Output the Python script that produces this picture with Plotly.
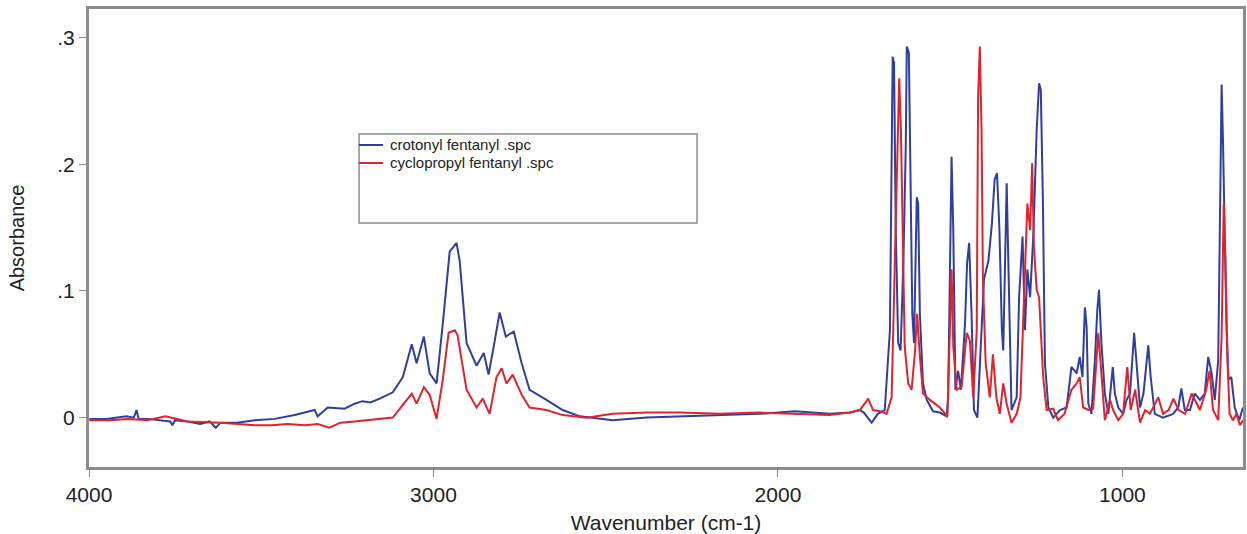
import plotly.graph_objects as go

# ---------------- data ----------------
crotonyl_wn = [3999, 3950, 3891, 3870, 3862, 3856, 3830, 3800, 3764, 3758, 3750, 3714, 3677, 3650, 3632,
               3618, 3570, 3519, 3461, 3403, 3345, 3336, 3307, 3258, 3229, 3206, 3183, 3156, 3142,
               3118, 3089, 3063, 3049, 3028, 3011, 2991, 2973, 2953, 2933, 2924, 2904, 2875,
               2854, 2840, 2822, 2808, 2790, 2767, 2744, 2721, 2672, 2625, 2575, 2480, 2381, 2285, 2169,
               2053, 1951, 1850, 1791, 1762, 1751, 1728, 1710, 1690, 1675, 1670, 1667, 1663, 1658, 1651,
               1644, 1636, 1629, 1626, 1620, 1617, 1610, 1605, 1597, 1593, 1588, 1579, 1568, 1550, 1530,
               1510, 1506, 1496, 1491, 1485, 1477, 1469, 1457, 1451, 1445, 1438, 1431, 1421, 1411, 1402,
               1389, 1379, 1371, 1364, 1357, 1350, 1346, 1340, 1336, 1329, 1322, 1307, 1300, 1290, 1283,
               1276, 1268, 1258, 1249, 1242, 1237, 1231, 1225, 1215, 1201, 1181, 1162, 1148, 1133, 1124,
               1116, 1109, 1104, 1099, 1090, 1080, 1073, 1068, 1061, 1051, 1041, 1028, 1022, 1012, 998,
               988, 978, 966, 959, 949, 939, 925, 918, 906, 882, 853, 838, 829, 819, 804,
               790, 775, 761, 751, 741, 732, 722, 717, 712, 708, 703, 698, 692, 684, 674,
               661, 650]
crotonyl_abs = [-0.001, -0.001, 0.001, 0.000, 0.006, -0.001, -0.001, -0.002, -0.003, -0.006, -0.002, -0.003, -0.005, -0.003, -0.008,
                -0.004, -0.004, -0.002, -0.001, 0.002, 0.006, 0.001, 0.008, 0.007, 0.011, 0.013, 0.012, 0.015, 0.017,
                0.020, 0.032, 0.058, 0.043, 0.064, 0.035, 0.027, 0.074, 0.131, 0.138, 0.124, 0.059, 0.041,
                0.051, 0.034, 0.061, 0.083, 0.064, 0.068, 0.043, 0.022, 0.014, 0.006, 0.001, -0.002, 0.000, 0.001, 0.002,
                0.003, 0.005, 0.003, 0.004, 0.006, 0.004, -0.004, 0.003, 0.006, 0.069, 0.196, 0.285, 0.280, 0.148, 0.059,
                0.053, 0.122, 0.214, 0.293, 0.288, 0.227, 0.082, 0.059, 0.174, 0.169, 0.082, 0.027, 0.014, 0.005, 0.004,
                0.001, 0.016, 0.206, 0.148, 0.022, 0.037, 0.022, 0.074, 0.122, 0.138, 0.082, 0.006, 0.000, 0.059, 0.109,
                0.124, 0.153, 0.188, 0.193, 0.148, 0.069, 0.053, 0.122, 0.185, 0.095, 0.006, 0.016, 0.095, 0.143, 0.069,
                0.117, 0.095, 0.148, 0.227, 0.264, 0.259, 0.174, 0.043, 0.008, 0.000, 0.006, 0.008, 0.040, 0.035, 0.048,
                0.032, 0.087, 0.072, 0.011, 0.003, 0.045, 0.085, 0.101, 0.059, 0.019, 0.003, 0.040, 0.019, 0.008, 0.003,
                0.014, 0.019, 0.067, 0.045, 0.008, 0.019, 0.057, 0.032, 0.003, 0.000, 0.003, 0.008, 0.023, 0.006, 0.006,
                0.019, 0.014, 0.019, 0.048, 0.035, 0.014, 0.045, 0.164, 0.263, 0.217, 0.151, 0.072, 0.030, 0.032, 0.008,
                -0.002, 0.008]

cyclopropyl_wn = [3999, 3940, 3888, 3830, 3778, 3714, 3618, 3519, 3472, 3423, 3374, 3336, 3302,
                  3270, 3229, 3183, 3142, 3118, 3089, 3063, 3049, 3028, 3011, 2991, 2973, 2956, 2938, 2930,
                  2918, 2904, 2875, 2857, 2837, 2817, 2802, 2788, 2770, 2744, 2721, 2672, 2625, 2555, 2480,
                  2381, 2285, 2169, 2053, 1951, 1850, 1791, 1762, 1738, 1724, 1703, 1685, 1670, 1661, 1654,
                  1648, 1643, 1638, 1632, 1622, 1612, 1602, 1596, 1590, 1579, 1559, 1530, 1508, 1501, 1496,
                  1491, 1481, 1467, 1452, 1443, 1433, 1423, 1419, 1414, 1409, 1405, 1397, 1385, 1376, 1366,
                  1356, 1346, 1336, 1322, 1307, 1296, 1283, 1276, 1268, 1262, 1257, 1249, 1242, 1230, 1220,
                  1201, 1187, 1168, 1148, 1133, 1124, 1114, 1099, 1085, 1070, 1061, 1051, 1036, 1027, 1012,
                  998, 986, 976, 963, 949, 934, 920, 896, 882, 866, 852, 837, 818, 799, 775,
                  757, 747, 737, 722, 712, 706, 701, 695, 689, 679, 669, 659, 650]
cyclopropyl_abs = [-0.002, -0.002, -0.001, -0.002, 0.001, -0.003, -0.004, -0.006, -0.006, -0.005, -0.006, -0.005, -0.008,
                   -0.004, -0.003, -0.002, -0.001, 0.000, 0.010, 0.019, 0.011, 0.024, 0.018, -0.001, 0.030, 0.067, 0.069, 0.065,
                   0.045, 0.022, 0.008, 0.015, 0.003, 0.032, 0.039, 0.027, 0.034, 0.018, 0.008, 0.006, 0.002, 0.000, 0.003,
                   0.004, 0.004, 0.003, 0.004, 0.003, 0.002, 0.004, 0.006, 0.015, 0.006, 0.005, 0.003, 0.016, 0.122, 0.217,
                   0.268, 0.227, 0.135, 0.056, 0.027, 0.022, 0.053, 0.082, 0.056, 0.019, 0.014, 0.008, 0.001, 0.069, 0.117,
                   0.056, 0.022, 0.024, 0.067, 0.061, 0.016, 0.069, 0.253, 0.293, 0.227, 0.109, 0.043, 0.016, 0.050, 0.016,
                   0.003, 0.027, 0.011, -0.004, 0.003, 0.016, 0.109, 0.169, 0.148, 0.201, 0.135, 0.101, 0.095, 0.032, 0.006,
                   0.007, -0.002, 0.003, 0.022, 0.027, 0.032, 0.008, 0.006, 0.007, 0.067, 0.032, -0.002, 0.014, 0.006, -0.002,
                   0.003, 0.040, 0.006, 0.022, -0.004, 0.006, 0.003, 0.016, 0.003, 0.006, 0.015, 0.006, 0.003, 0.019, 0.006,
                   0.022, 0.037, 0.006, -0.002, 0.064, 0.169, 0.124, 0.045, 0.003, -0.002, 0.003, -0.006, -0.002]

series_names = ["crotonyl fentanyl .spc", "cyclopropyl fentanyl .spc"]
x_tick_vals = [4000, 3000, 2000, 1000]
x_tick_text = ["4000", "3000", "2000", "1000"]
y_tick_vals = [0, 0.1, 0.2, 0.3]
y_tick_text = ["0", ".1", ".2", ".3"]

# ---------------- figure ----------------
BLUE = "#2f3f9f"
RED = "#e3222b"
FRAME = "#8c8c8c"
FONT = "Liberation Sans, Arial, sans-serif"
TXT = "#222222"
series_colors = [BLUE, RED]

fig = go.Figure()
fig.add_trace(go.Scatter(x=crotonyl_wn, y=crotonyl_abs, mode="lines", name=series_names[0],
                         line=dict(color=BLUE, width=2), showlegend=False))
fig.add_trace(go.Scatter(x=cyclopropyl_wn, y=cyclopropyl_abs, mode="lines", name=series_names[1],
                         line=dict(color=RED, width=2), showlegend=False))

fig.update_layout(
    template="none",
    width=1247, height=534,
    margin=dict(l=89, r=4, t=9, b=67, pad=0),
    paper_bgcolor="white", plot_bgcolor="white",
    font=dict(family=FONT, color=TXT),
    showlegend=False,
    xaxis=dict(range=[4000, 650], autorange=False, automargin=False,
               tickvals=x_tick_vals, ticktext=x_tick_text,
               showgrid=False, zeroline=False,
               showline=True, mirror=True, linecolor=FRAME, linewidth=3,
               ticks="outside", ticklen=7, tickwidth=1, tickcolor=FRAME,
               tickfont=dict(size=21, family=FONT, color=TXT),
               title=dict(text="Wavenumber (cm-1)", font=dict(size=21, family=FONT, color=TXT))),
    yaxis=dict(range=[-0.039, 0.3227], autorange=False, automargin=False,
               tickvals=y_tick_vals, ticktext=y_tick_text,
               showgrid=False, zeroline=False,
               showline=True, mirror=True, linecolor=FRAME, linewidth=3,
               ticks="outside", ticklen=7, tickwidth=1, tickcolor=FRAME,
               tickfont=dict(size=21, family=FONT, color=TXT),
               title=dict(text="Absorbance", font=dict(size=20, family=FONT, color=TXT), standoff=28)),
)

# legend: frame box, line samples and labels
fig.add_shape(type="rect", xref="paper", yref="paper",
              x0=0.2340, x1=0.5269, y0=0.5328, y1=0.7271,
              line=dict(color=FRAME, width=1.5), fillcolor="rgba(0,0,0,0)", layer="above")
legend_rows_y = [0.7031, 0.6638]
for name, color, yy in zip(series_names, series_colors, legend_rows_y):
    fig.add_shape(type="line", xref="paper", yref="paper",
                  x0=0.2340, x1=0.2548, y0=yy, y1=yy,
                  line=dict(color=color, width=2), layer="above")
    fig.add_annotation(xref="paper", yref="paper", x=0.2591, y=yy,
                       xanchor="left", yanchor="middle", showarrow=False,
                       text=name, font=dict(size=15, family=FONT, color=TXT))

fig.write_html("out.html", config={"displayModeBar": False},
               post_script="document.body.style.margin='0';")
